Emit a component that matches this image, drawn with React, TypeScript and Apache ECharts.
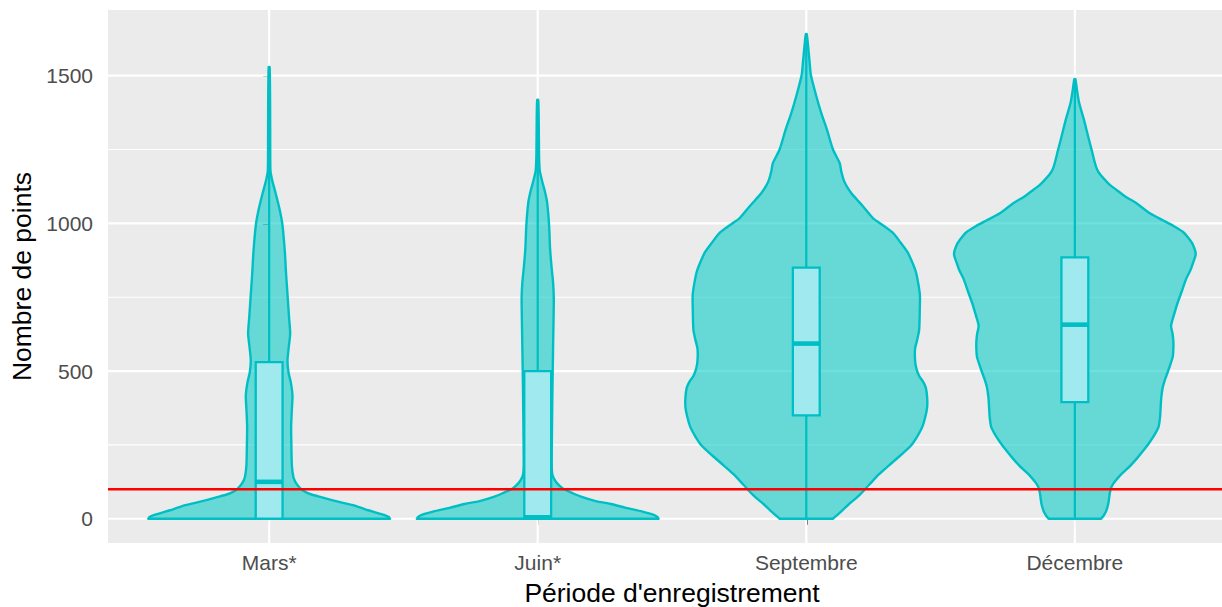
import React, { useEffect, useRef } from "react";
import * as echarts from "echarts";

const categories = ["Mars*", "Juin*", "Septembre", "Décembre"];
const yTickValues = [0, 500, 1000, 1500];
const yMinorGrid = [250, 750, 1250];
const threshold = 100;

// box plot statistics per category
const boxMin = [0, 0, 0, 0];
const boxQ1 = [0, 0, 350, 395];
const boxMedian = [125, 5, 593, 657];
const boxQ3 = [530, 500, 850, 885];
const boxMax = [1529, 1418, 1640, 1488];

// violin outlines: [value, relative half-width (1 = widest)]
const marsViolin = [
  [0, 1.0], [6, 0.99], [13, 0.95], [24, 0.86], [33, 0.79], [43, 0.72], [53, 0.62], [63, 0.52],
  [73, 0.43], [83, 0.345], [92, 0.295], [102, 0.26], [122, 0.22], [142, 0.2], [181, 0.188],
  [250, 0.184], [312, 0.182], [370, 0.188], [417, 0.193], [460, 0.18], [496, 0.16], [536, 0.152],
  [580, 0.162], [627, 0.174], [680, 0.165], [758, 0.152], [830, 0.14], [903, 0.13], [995, 0.11],
  [1050, 0.085], [1100, 0.055], [1130, 0.035], [1152, 0.022], [1178, 0.011], [1250, 0.009],
  [1400, 0.008], [1529, 0.004],
];
const juinViolin = [
  [0, 1.0], [6, 0.99], [13, 0.96], [24, 0.867], [37, 0.73], [50, 0.605], [60, 0.48], [73, 0.37],
  [87, 0.287], [100, 0.218], [113, 0.177], [129, 0.144], [148, 0.122], [181, 0.116], [300, 0.118],
  [444, 0.122], [575, 0.127], [650, 0.13], [700, 0.132], [750, 0.133], [800, 0.127], [850, 0.115],
  [916, 0.102], [995, 0.094], [1073, 0.077], [1110, 0.058], [1139, 0.039], [1178, 0.017],
  [1231, 0.011], [1362, 0.008], [1418, 0.004],
];
const septViolin = [
  [0, 0.22], [25, 0.29], [50, 0.354], [80, 0.44], [115, 0.52], [150, 0.6], [181, 0.685],
  [215, 0.78], [247, 0.865], [280, 0.92], [312, 0.961], [345, 0.985], [378, 1.0], [410, 1.0],
  [444, 0.989], [465, 0.965], [483, 0.934], [510, 0.91], [536, 0.9], [575, 0.9], [610, 0.92],
  [640, 0.934], [706, 0.939], [758, 0.94], [800, 0.925], [837, 0.906], [870, 0.875], [903, 0.837],
  [935, 0.78], [969, 0.713], [1000, 0.61], [1018, 0.55], [1057, 0.47], [1080, 0.42],
  [1102, 0.373], [1125, 0.335], [1147, 0.309], [1175, 0.29], [1204, 0.276], [1250, 0.221],
  [1317, 0.171], [1373, 0.124], [1430, 0.083], [1500, 0.039], [1543, 0.028], [1600, 0.015],
  [1640, 0.004],
];
const decViolin = [
  [0, 0.218], [12, 0.24], [24, 0.257], [50, 0.276], [89, 0.29], [105, 0.3], [120, 0.32],
  [140, 0.36], [155, 0.395], [180, 0.46], [207, 0.519], [235, 0.575], [260, 0.62], [285, 0.66],
  [312, 0.693], [345, 0.705], [378, 0.71], [410, 0.715], [444, 0.727], [470, 0.745], [496, 0.768],
  [522, 0.79], [548, 0.81], [575, 0.815], [601, 0.815], [627, 0.808], [653, 0.796], [690, 0.82],
  [732, 0.851], [770, 0.885], [811, 0.92], [840, 0.955], [863, 0.975], [896, 1.0], [929, 0.975],
  [950, 0.94], [969, 0.9], [990, 0.82], [1008, 0.74], [1034, 0.62], [1068, 0.51], [1090, 0.42],
  [1113, 0.345], [1130, 0.29], [1147, 0.249], [1165, 0.21], [1181, 0.185], [1204, 0.166],
  [1250, 0.138], [1294, 0.11], [1351, 0.075], [1407, 0.036], [1450, 0.018], [1488, 0.004],
];
const violins = [marsViolin, juinViolin, septViolin, decViolin];

const X_MIN = -0.6;
const X_MAX = 3.6;
const Y_MIN = -82;
const Y_MAX = 1722;
const VIOLIN_HALF = 0.45;
const BOX_HALF = 0.05;
const TEAL = "#00BFC4";
const VIOLIN_FILL = "rgba(13,205,200,0.6)";
const BOX_FILL = "#A0EAEF";
const FONT = "'Liberation Sans', Arial, Helvetica, sans-serif";

export default function App() {
  const ref = useRef<HTMLDivElement>(null);
  useEffect(() => {
    if (!ref.current) return;
    const chart = echarts.init(ref.current, undefined, { renderer: "svg" });

    const hLine = (width: number) => (params: any, api: any) => {
      const v = api.value(0);
      const p1 = api.coord([X_MIN, v]);
      const p2 = api.coord([X_MAX, v]);
      return {
        type: "line",
        shape: { x1: p1[0], y1: p1[1], x2: p2[0], y2: p2[1] },
        style: { stroke: "#FFFFFF", lineWidth: width },
      };
    };

    const option: any = {
      animation: false,
      grid: {
        left: 108,
        right: -14,
        top: 10,
        bottom: 64,
        show: true,
        backgroundColor: "#EBEBEB",
        borderWidth: 0,
        containLabel: false,
        outerBoundsMode: "none",
      },
      xAxis: {
        type: "value",
        min: X_MIN,
        max: X_MAX,
        name: "Période d'enregistrement",
        nameLocation: "middle",
        nameGap: 36,
        nameTextStyle: { fontSize: 26.5, color: "#000000", fontFamily: FONT },
        axisLine: { show: false },
        splitLine: { show: false },
        axisTick: {
          show: true,
          customValues: [0, 1, 2, 3],
          length: 6,
          lineStyle: { color: "#333333", width: 2 },
        },
        axisLabel: {
          customValues: [0, 1, 2, 3],
          formatter: (v: number) => categories[Math.round(v)] ?? "",
          fontSize: 21,
          color: "#4D4D4D",
          fontFamily: FONT,
          margin: 9,
        },
      },
      yAxis: {
        type: "value",
        min: Y_MIN,
        max: Y_MAX,
        name: "Nombre de points",
        nameLocation: "middle",
        nameGap: 70,
        nameTextStyle: { fontSize: 26.5, color: "#000000", fontFamily: FONT },
        axisLine: { show: false },
        splitLine: { show: false },
        axisTick: {
          show: true,
          customValues: yTickValues,
          length: 6,
          lineStyle: { color: "#333333", width: 2 },
        },
        axisLabel: {
          customValues: yTickValues,
          formatter: (v: number) => String(v),
          fontSize: 21,
          color: "#4D4D4D",
          fontFamily: FONT,
          margin: 15,
        },
      },
      series: [
        {
          type: "custom",
          z: 1,
          silent: true,
          data: yMinorGrid.map((v) => [v]),
          renderItem: hLine(1.1),
        },
        {
          type: "custom",
          z: 1,
          silent: true,
          data: yTickValues.map((v) => [v]),
          renderItem: hLine(2.2),
        },
        {
          type: "custom",
          z: 1,
          silent: true,
          data: categories.map((_, i) => [i]),
          renderItem: (params: any, api: any) => {
            const i = api.value(0);
            const p1 = api.coord([i, Y_MIN]);
            const p2 = api.coord([i, Y_MAX]);
            return {
              type: "line",
              shape: { x1: p1[0], y1: p1[1], x2: p2[0], y2: p2[1] },
              style: { stroke: "#FFFFFF", lineWidth: 2.2 },
            };
          },
        },
        {
          type: "custom",
          z: 2,
          data: categories.map((_, i) => [i, boxMin[i], boxQ1[i], boxMedian[i], boxQ3[i], boxMax[i]]),
          renderItem: (params: any, api: any) => {
            const i = api.value(0);
            const mn = api.value(1);
            const q1 = api.value(2);
            const med = api.value(3);
            const q3 = api.value(4);
            const mx = api.value(5);
            const prof = violins[i];
            const leftPts = prof.map(([v, w]) => api.coord([i - w * VIOLIN_HALF, v]));
            const rightPts = prof
              .slice()
              .reverse()
              .map(([v, w]) => api.coord([i + w * VIOLIN_HALF, v]));
            // duplicate corner points so that the smoothing keeps the flat bottom sharp
            const pts = [
              leftPts[0],
              ...leftPts,
              ...rightPts,
              rightPts[rightPts.length - 1],
            ];
            const pMin = api.coord([i, mn]);
            const pMax = api.coord([i, mx]);
            const tl = api.coord([i - BOX_HALF, q3]);
            const br = api.coord([i + BOX_HALF, q1]);
            const pm = api.coord([i, med]);
            return {
              type: "group",
              children: [
                {
                  type: "polygon",
                  shape: { points: pts, smooth: 0.25 },
                  style: { fill: VIOLIN_FILL, stroke: TEAL, lineWidth: 2.4, lineJoin: "round" },
                },
                {
                  type: "line",
                  shape: { x1: pMin[0], y1: pMin[1], x2: pMax[0], y2: pMax[1] },
                  style: { stroke: TEAL, lineWidth: 2.3 },
                },
                {
                  type: "rect",
                  shape: { x: tl[0], y: tl[1], width: br[0] - tl[0], height: br[1] - tl[1] },
                  style: { fill: BOX_FILL, stroke: TEAL, lineWidth: 2.3 },
                },
                {
                  type: "line",
                  shape: { x1: tl[0], y1: pm[1], x2: br[0], y2: pm[1] },
                  style: { stroke: TEAL, lineWidth: 4.6 },
                },
              ],
            };
          },
        },
        {
          type: "custom",
          z: 5,
          silent: true,
          data: [[threshold]],
          renderItem: (params: any, api: any) => {
            const v = api.value(0);
            const p1 = api.coord([X_MIN, v]);
            const p2 = api.coord([X_MAX, v]);
            return {
              type: "line",
              shape: { x1: p1[0], y1: p1[1], x2: p2[0], y2: p2[1] },
              style: { stroke: "#FF0000", lineWidth: 2.5 },
            };
          },
        },
      ],
    };
    chart.setOption(option);
    return () => chart.dispose();
  }, []);

  return (
    <div
      ref={ref}
      style={{ position: "absolute", left: 0, top: 0, width: 1222, height: 607, background: "#FFFFFF" }}
    />
  );
}
